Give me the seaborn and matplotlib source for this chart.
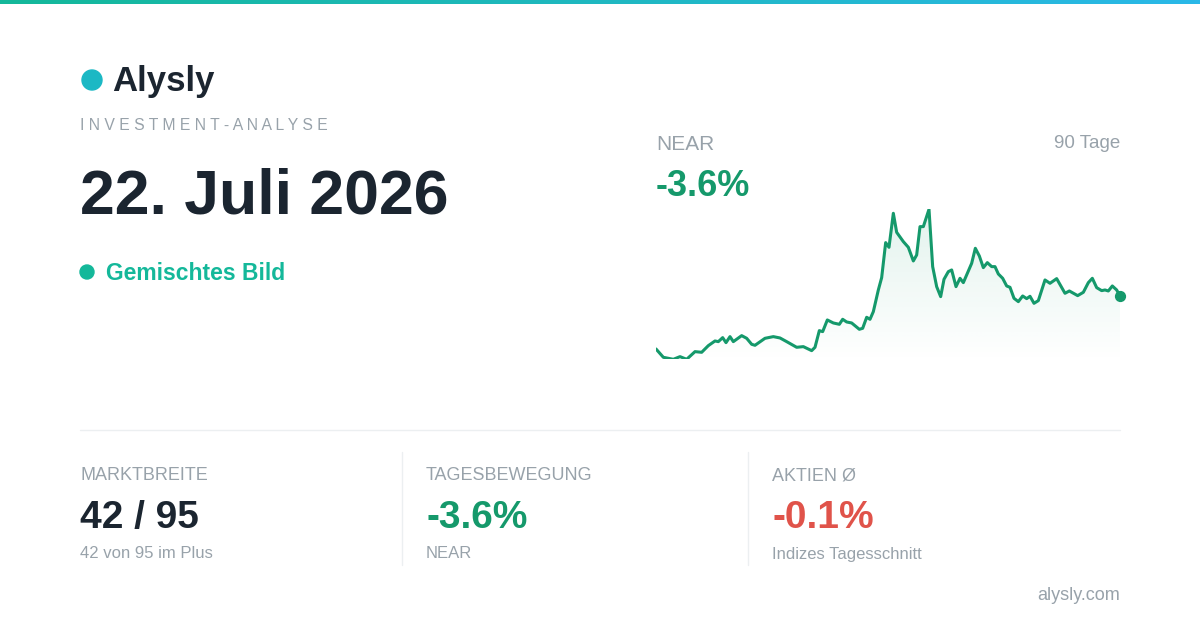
import numpy as np
import matplotlib
matplotlib.use("Agg")
import matplotlib.pyplot as plt
import seaborn as sns
from matplotlib.patches import Circle, Polygon

sns.set_theme(style="white")
plt.rcParams['font.family'] = ['Liberation Sans', 'DejaVu Sans']

# price path (arbitrary units)
t = [18, 40, 70, 90, 110, 135, 155, 175, 195, 205, 218, 228, 240, 250, 275, 290, 305, 315, 345, 370,
     390, 410, 440, 460, 485, 495, 508, 518, 532, 550, 568, 578, 590, 605, 628, 638, 650, 660, 670, 685,
     695, 707, 717, 730, 740, 760, 775, 790, 800, 810, 820, 837, 848, 860, 872, 882, 895, 905, 918, 930,
     940, 965, 976, 988, 1000, 1012, 1025, 1035, 1045, 1058, 1070, 1080, 1092, 1105, 1118, 1130, 1140, 1152, 1165, 1185,
     1200, 1220, 1245, 1258, 1283, 1300, 1315, 1327, 1340, 1355, 1365, 1375, 1387, 1400, 1410]
v = [53, 28, 22, 30, 22, 45, 43, 63, 77, 75, 87, 72, 90, 75, 93, 85, 67, 64, 85, 90,
     86, 75, 58, 60, 48, 58, 108, 105, 140, 131, 127, 142, 134, 131, 112, 115, 148, 142, 165, 230,
     267, 372, 358, 460, 403, 375, 358, 317, 335, 420, 420, 472, 300, 240, 210, 262, 285, 290, 240, 265,
     252, 310, 355, 332, 297, 312, 300, 300, 278, 265, 242, 238, 205, 195, 212, 204, 211, 190, 198, 260,
     250, 264, 220, 227, 213, 223, 252, 265, 237, 228, 230, 227, 242, 230, 212]

symbol = "NEAR"
change = "-3.6%"
period = "90 Tage"
date_text = "22. Juli 2026"
mood = "Gemischtes Bild"
stats = [("MARKTBREITE", "42 / 95", "42 von 95 im Plus", "#1b2530"),
         ("TAGESBEWEGUNG", "-3.6%", "NEAR", "#15996b"),
         ("AKTIEN Ø", "-0.1%", "Indizes Tagesschnitt", "#e0534a")]

W, H = 1200, 630
fig = plt.figure(figsize=(12, 6.3), dpi=100)
bg = fig.add_axes([0, 0, 1, 1])
bg.set_xlim(0, W)
bg.set_ylim(H, 0)
bg.axis("off")

# top gradient bar
grad = np.linspace(0, 1, 256)[None, :]
cmap = matplotlib.colors.LinearSegmentedColormap.from_list("g", ["#14b89a", "#2ab8e8"])
bg.imshow(grad, extent=[0, W, 4, 0], aspect="auto", cmap=cmap)

# logo
bg.add_patch(Circle((92, 80), 10, color="#1bb8c4"))
bg.text(112, 82, "Alysly", fontsize=25, fontweight="bold", color="#1b2530", va="center")
bg.text(80, 126, "I N V E S T M E N T - A N A L Y S E", fontsize=11.3, color="#98a2aa", va="center")
bg.text(80, 197, date_text, fontsize=45, fontweight="bold", color="#1b2530", va="center")
bg.add_patch(Circle((87, 272), 7, color="#14b89a"))
bg.text(106, 273, mood, fontsize=16.5, fontweight="bold", color="#14b89a", va="center")

bg.text(656, 144, symbol, fontsize=15, color="#98a2aa", va="center")
bg.text(1120, 144, period, fontsize=13.5, color="#98a2aa", va="center", ha="right")
bg.text(656, 186, change, fontsize=26, fontweight="bold", color="#15996b", va="center")

# separators
bg.plot([80, 1120], [430, 430], color="#eceff1", lw=1)
for xs in (402, 748):
    bg.plot([xs, xs], [452, 565], color="#eceff1", lw=1)

for i, (lab, val, sub, col) in enumerate(stats):
    x0 = 80 + i * 346
    bg.text(x0, 476, lab, fontsize=13, color="#98a2aa", va="center")
    bg.text(x0, 518, val, fontsize=28, fontweight="bold", color=col, va="center")
    bg.text(x0, 554, sub, fontsize=12, color="#98a2aa", va="center")

bg.text(1120, 595, "alysly.com", fontsize=13, color="#98a2aa", va="center", ha="right")

# line chart
ax = fig.add_axes([656 / W, 1 - 359.3 / H, 464 / W, 150 / H])
ax.set_xlim(min(t), max(t))
ax.set_ylim(min(v), max(v))
ax.axis("off")
line_col = "#15996b"
sns.lineplot(x=t, y=v, ax=ax, color=line_col, lw=2.2)
fill = np.linspace(0.12, 0.0, 256)[:, None]
rgba = np.zeros((256, 1, 4))
rgba[..., :3] = matplotlib.colors.to_rgb(line_col)
rgba[..., 3] = fill
img = ax.imshow(rgba, extent=[min(t), max(t), min(v) - 10, max(v)], aspect="auto", origin="upper", zorder=0)
poly = Polygon(list(zip(t, v)) + [(max(t), min(v) - 10), (min(t), min(v) - 10)], closed=True,
               transform=ax.transData, facecolor="none", edgecolor="none")
ax.add_patch(poly)
img.set_clip_path(poly)
ax.set_ylim(min(v), max(v))
ax.scatter([t[-1]], [v[-1]], s=50, color=line_col, zorder=5, clip_on=False)

fig.savefig("out.png", dpi=100)
